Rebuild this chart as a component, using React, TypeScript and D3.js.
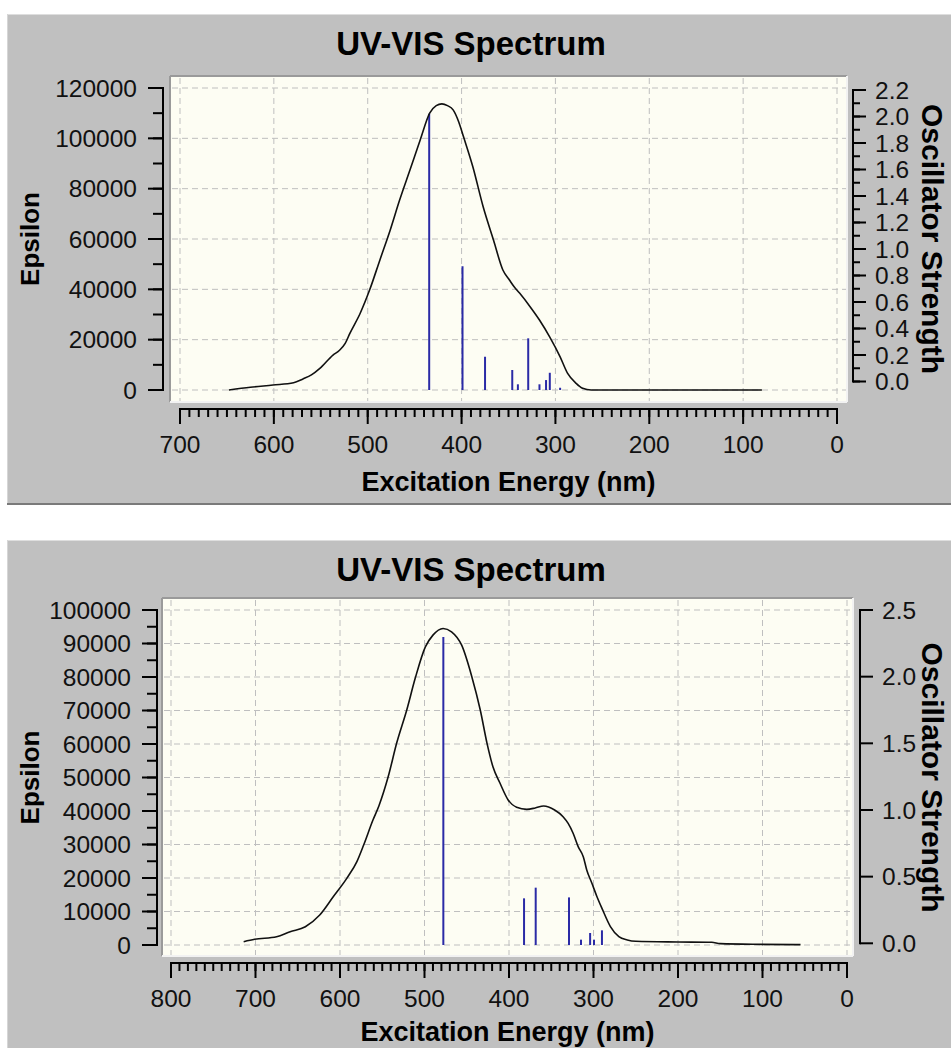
import React from "react";
import * as d3 from "d3";

// ---------- DATA ----------
// Top spectrum: broadened curve (nm, epsilon)
const topCurveNm = [648, 625, 601, 579, 569, 560, 551, 537, 530, 524, 519, 508, 498, 487, 476, 466, 455, 444, 434, 427, 421, 415, 409, 403, 398, 388, 377, 366, 356, 349, 344, 338, 327, 317, 306, 295, 287, 278, 271, 262, 80];
const topCurveEps = [0, 1070, 1990, 2900, 4400, 6000, 8600, 13900, 15800, 18500, 22500, 30500, 39700, 51700, 63600, 75500, 87400, 99400, 110000, 113000, 113700, 113000, 111300, 106500, 100700, 88700, 72800, 59600, 47700, 43700, 41000, 38400, 33100, 27800, 21000, 13200, 6600, 2650, 660, 0, 0];
// Top spectrum: excitations (nm, oscillator strength)
const topStickNm = [434.5, 399, 375, 346, 340, 329, 317, 310, 306, 295];
const topStickF = [2.085, 0.934, 0.251, 0.151, 0.043, 0.39, 0.043, 0.075, 0.13, 0.017];

// Bottom spectrum: broadened curve
const botCurveNm = [714, 701, 675, 659, 641, 624, 608, 592, 580, 572, 561, 554, 543, 533, 521, 511, 499, 490, 478, 468, 456, 444, 434, 426, 419, 411, 401, 391, 379, 369, 359, 346, 336, 330, 324, 318, 312, 308, 302, 296, 290, 280, 270, 260, 250, 200, 160, 150, 100, 55];
const botCurveEps = [985, 1700, 2480, 3970, 5460, 8950, 14400, 19900, 24900, 29850, 37300, 41500, 50200, 60200, 70150, 79600, 89000, 92500, 94500, 93500, 89500, 80100, 70150, 60200, 53200, 48500, 43300, 41100, 40500, 40900, 41500, 40300, 38300, 36300, 33300, 29300, 26300, 22400, 18500, 14500, 10950, 5500, 2500, 1500, 1100, 900, 800, 400, 200, 100];
// Bottom spectrum: excitations
const botStickNm = [477.7, 382.2, 368.4, 329, 314.8, 304, 299.4, 290];
const botStickF = [2.31, 0.35, 0.43, 0.357, 0.04, 0.09, 0.04, 0.11];

// Tick values
const topXTicks = [700, 600, 500, 400, 300, 200, 100, 0];
const topYTicks = [0, 20000, 40000, 60000, 80000, 100000, 120000];
const topFTicks = [0, 0.2, 0.4, 0.6, 0.8, 1.0, 1.2, 1.4, 1.6, 1.8, 2.0, 2.2];
const botXTicks = [800, 700, 600, 500, 400, 300, 200, 100, 0];
const botYTicks = [0, 10000, 20000, 30000, 40000, 50000, 60000, 70000, 80000, 90000, 100000];
const botFTicks = [0, 0.5, 1.0, 1.5, 2.0, 2.5];

const titleText = "UV-VIS Spectrum";
const xTitle = "Excitation Energy (nm)";
const yTitle = "Epsilon";
const fTitle = "Oscillator Strength";

// ---------- COMPONENT ----------
type PanelProps = {
  panel: { x: number; y: number; w: number; h: number; bottomEdge: boolean };
  frame: { x0: number; x1: number; y0: number; y1: number };
  xDomain: [number, number]; xRange: [number, number];
  yDomain: [number, number]; yRange: [number, number];
  fDomain: [number, number]; fAxisRange: [number, number];
  xTicks: number[]; xMinorStep: number;
  yTicks: number[]; yMinorStep: number;
  fTicks: number[]; fMinorStep: number | null; fFormat: string;
  leftAxisX: number; bottomAxisY: number; rightAxisX: number;
  titleY: number; titleX: number;
  yTitleX: number; xTitleY: number; fTitleX: number;
  curveNm: number[]; curveEps: number[];
  stickNm: number[]; stickF: number[];
};

const FONT = "'Liberation Sans', Arial, Helvetica, sans-serif";
const TICK_FS = 24.5;

function Panel(p: PanelProps) {
  const x = d3.scaleLinear().domain(p.xDomain).range(p.xRange);
  const y = d3.scaleLinear().domain(p.yDomain).range(p.yRange);
  const fAxis = d3.scaleLinear().domain(p.fDomain).range(p.fAxisRange);
  const base = y(0);
  const fStick = d3.scaleLinear().domain(p.fDomain)
    .range([base, base - (p.fAxisRange[0] - p.fAxisRange[1])]);

  const line = d3.line<[number, number]>()
    .x((d) => x(d[0])).y((d) => y(d[1])).curve(d3.curveMonotoneX);
  const pts: [number, number][] = p.curveNm.map((n, i) => [n, p.curveEps[i]]);

  const xMin = Math.min(...p.xDomain), xMax = Math.max(...p.xDomain);
  const xMinor = d3.range(xMin, xMax + 0.001, p.xMinorStep);
  const yMinor = d3.range(p.yDomain[0], p.yDomain[1] + 0.001, p.yMinorStep);
  const fMinor = p.fMinorStep ? d3.range(p.fDomain[0], p.fDomain[1] + 0.0001, p.fMinorStep) : [];
  const fmt = d3.format(p.fFormat);

  const { x0, x1, y0, y1 } = p.frame;
  const cx = (x0 + x1) / 2;
  const yMid = (p.yRange[0] + p.yRange[1]) / 2;
  const grid = "#bfbfbf";

  return (
    <g>
      {/* panel */}
      <rect x={p.panel.x} y={p.panel.y} width={p.panel.w} height={p.panel.h} fill="#c0c0c0" />
      <line x1={p.panel.x} x2={p.panel.x + p.panel.w} y1={p.panel.y + 0.5} y2={p.panel.y + 0.5} stroke="#dedede" />
      <line x1={p.panel.x + 0.5} x2={p.panel.x + 0.5} y1={p.panel.y} y2={p.panel.y + p.panel.h} stroke="#d6d6d6" />
      {p.panel.bottomEdge && (
        <line x1={p.panel.x} x2={p.panel.x + p.panel.w} y1={p.panel.y + p.panel.h - 1} y2={p.panel.y + p.panel.h - 1} stroke="#7a7a7a" strokeWidth={2} />
      )}

      {/* plot frame */}
      <rect x={x0} y={y0} width={x1 - x0} height={y1 - y0} fill="#fdfdf3" />
      <line x1={x0} x2={x1} y1={y0} y2={y0} stroke="#9a9a9a" strokeWidth={2} />
      <line x1={x0} x2={x0} y1={y0} y2={y1} stroke="#9a9a9a" strokeWidth={2} />
      <line x1={x0} x2={x1} y1={y1} y2={y1} stroke="#f2f2f2" strokeWidth={2} />
      <line x1={x1} x2={x1} y1={y0} y2={y1} stroke="#f2f2f2" strokeWidth={2} />

      {/* grid */}
      {p.xTicks.map((t) => (
        <line key={"gx" + t} x1={x(t)} x2={x(t)} y1={y0 + 2} y2={y1 - 1} stroke={grid} strokeDasharray="6,4" />
      ))}
      {p.yTicks.map((t) => (
        <line key={"gy" + t} x1={x0 + 2} x2={x1 - 1} y1={y(t)} y2={y(t)} stroke={grid} strokeDasharray="6,4" />
      ))}

      {/* sticks */}
      {p.stickNm.map((n, i) => (
        <line key={"s" + i} x1={x(n)} x2={x(n)} y1={base} y2={fStick(p.stickF[i])} stroke="#2a2aa6" strokeWidth={2} />
      ))}

      {/* curve */}
      <path d={line(pts) || ""} fill="none" stroke="#111" strokeWidth={1.6} />

      {/* left axis */}
      <line x1={p.leftAxisX} x2={p.leftAxisX} y1={y(p.yDomain[0]) + 1} y2={y(p.yDomain[1]) - 1} stroke="#000" strokeWidth={2} />
      {yMinor.map((t) => (
        <line key={"ym" + t} x1={p.leftAxisX} x2={p.leftAxisX - 10} y1={y(t)} y2={y(t)} stroke="#000" strokeWidth={2} />
      ))}
      {p.yTicks.map((t) => (
        <g key={"yt" + t}>
          <line x1={p.leftAxisX} x2={p.leftAxisX - 15} y1={y(t)} y2={y(t)} stroke="#000" strokeWidth={2} />
          <text x={p.leftAxisX - 26} y={y(t)} dy="0.36em" textAnchor="end" fontSize={TICK_FS} fontFamily={FONT} fill="#111">{t}</text>
        </g>
      ))}

      {/* bottom axis */}
      <line x1={x(xMax) - 1} x2={x(xMin) + 1} y1={p.bottomAxisY} y2={p.bottomAxisY} stroke="#000" strokeWidth={2} />
      {xMinor.map((t) => (
        <line key={"xm" + t} x1={x(t)} x2={x(t)} y1={p.bottomAxisY} y2={p.bottomAxisY + 8} stroke="#000" strokeWidth={2} />
      ))}
      {p.xTicks.map((t) => (
        <g key={"xt" + t}>
          <line x1={x(t)} x2={x(t)} y1={p.bottomAxisY} y2={p.bottomAxisY + 15} stroke="#000" strokeWidth={2} />
          <text x={x(t)} y={p.bottomAxisY + 35} dy="0.36em" textAnchor="middle" fontSize={TICK_FS} fontFamily={FONT} fill="#111">{t}</text>
        </g>
      ))}

      {/* right axis */}
      <line x1={p.rightAxisX} x2={p.rightAxisX} y1={fAxis(p.fDomain[0]) + 1} y2={fAxis(p.fDomain[1]) - 1} stroke="#000" strokeWidth={2} />
      {fMinor.map((t, i) => (
        <line key={"fm" + i} x1={p.rightAxisX} x2={p.rightAxisX + 7} y1={fAxis(t)} y2={fAxis(t)} stroke="#000" strokeWidth={2} />
      ))}
      {p.fTicks.map((t) => (
        <g key={"ft" + t}>
          <line x1={p.rightAxisX} x2={p.rightAxisX + 13} y1={fAxis(t)} y2={fAxis(t)} stroke="#000" strokeWidth={2} />
          <text x={p.rightAxisX + 22} y={fAxis(t)} dy="0.36em" textAnchor="start" fontSize={TICK_FS} fontFamily={FONT} fill="#111">{fmt(t)}</text>
        </g>
      ))}

      {/* titles */}
      <text x={p.titleX} y={p.titleY} dy="0.36em" textAnchor="middle" fontSize={33} fontWeight="bold" fontFamily={FONT} fill="#000">{titleText}</text>
      <text x={cx} y={p.xTitleY} dy="0.36em" textAnchor="middle" fontSize={27} fontWeight="bold" fontFamily={FONT} fill="#000">{xTitle}</text>
      <text transform={`translate(${p.yTitleX},${yMid}) rotate(-90)`} dy="0.36em" textAnchor="middle" fontSize={26} fontWeight="bold" fontFamily={FONT} fill="#000">{yTitle}</text>
      <text transform={`translate(${p.fTitleX},${yMid}) rotate(90)`} dy="0.36em" textAnchor="middle" fontSize={30} fontWeight="bold" fontFamily={FONT} fill="#000">{fTitle}</text>
    </g>
  );
}

export default function App() {
  return (
    <svg width={951} height={1048} style={{ position: "absolute", left: 0, top: 0, background: "#fff" }}>
      <Panel
        panel={{ x: 7, y: 14, w: 944, h: 491, bottomEdge: true }}
        frame={{ x0: 170, x1: 847, y0: 76, y1: 402 }}
        xDomain={[700, 0]} xRange={[180, 837]}
        yDomain={[0, 120000]} yRange={[390, 88]}
        fDomain={[0, 2.2]} fAxisRange={[381.5, 90]}
        xTicks={topXTicks} xMinorStep={10}
        yTicks={topYTicks} yMinorStep={10000}
        fTicks={topFTicks} fMinorStep={0.1} fFormat=".1f"
        leftAxisX={163} bottomAxisY={409} rightAxisX={853}
        titleX={471} titleY={43}
        yTitleX={30} xTitleY={481} fTitleX={933}
        curveNm={topCurveNm} curveEps={topCurveEps}
        stickNm={topStickNm} stickF={topStickF}
      />
      <Panel
        panel={{ x: 7, y: 540, w: 944, h: 508, bottomEdge: false }}
        frame={{ x0: 162, x1: 853, y0: 598, y1: 956 }}
        xDomain={[800, 0]} xRange={[171, 847]}
        yDomain={[0, 100000]} yRange={[945, 610]}
        fDomain={[0, 2.5]} fAxisRange={[943.3, 610]}
        xTicks={botXTicks} xMinorStep={10}
        yTicks={botYTicks} yMinorStep={5000}
        fTicks={botFTicks} fMinorStep={null} fFormat=".1f"
        leftAxisX={157} bottomAxisY={963} rightAxisX={860}
        titleX={471} titleY={569}
        yTitleX={30} xTitleY={1031} fTitleX={933}
        curveNm={botCurveNm} curveEps={botCurveEps}
        stickNm={botStickNm} stickF={botStickF}
      />
    </svg>
  );
}
